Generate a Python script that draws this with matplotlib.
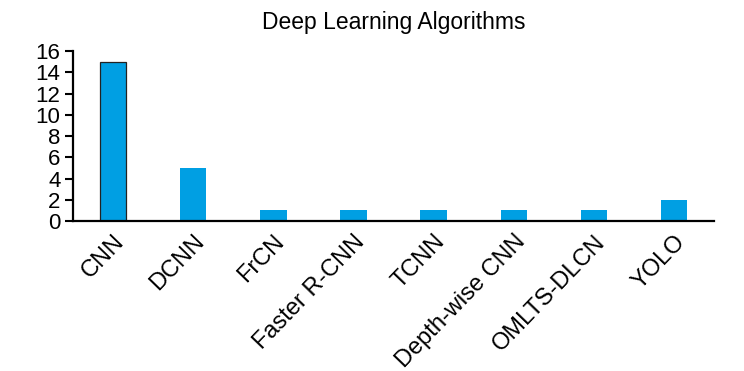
import matplotlib
matplotlib.use("Agg")
import matplotlib.pyplot as plt

categories = ["CNN", "DCNN", "FrCN", "Faster R-CNN", "TCNN", "Depth-wise CNN", "OMLTS-DLCN", "YOLO"]
values = [15, 5, 1, 1, 1, 1, 1, 2]
yticks = [0, 2, 4, 6, 8, 10, 12, 14, 16]

plt.rcParams['font.family'] = ['Liberation Sans', 'DejaVu Sans']
fig = plt.figure(figsize=(7.44, 3.71), dpi=100)
ax = fig.add_axes([0.098, 0.404, 0.862, 0.4585])
x = range(len(categories))
bars = ax.bar(x, values, width=0.33, color='#009fe3', zorder=2)
bars[0].set_edgecolor('#222222')
bars[0].set_linewidth(0.9)
ax.set_xlim(-0.5, 7.5)
ax.set_ylim(0, 16)
ax.set_yticks(yticks)
ax.set_yticklabels([str(v) for v in yticks], fontsize=16)
ax.set_xticks(list(x))
ax.set_xticklabels(categories, rotation=46, ha='right', rotation_mode='anchor', fontsize=17)
ax.tick_params(axis='x', length=0, pad=7)
ax.tick_params(axis='y', direction='out', length=6, width=1.5, pad=3)
for s in ['top', 'right']:
    ax.spines[s].set_visible(False)
for s in ['left', 'bottom']:
    ax.spines[s].set_linewidth(1.6)
ax.set_title("Deep Learning Algorithms", fontsize=16.5, pad=16)
fig.savefig("out.png", dpi=100)
